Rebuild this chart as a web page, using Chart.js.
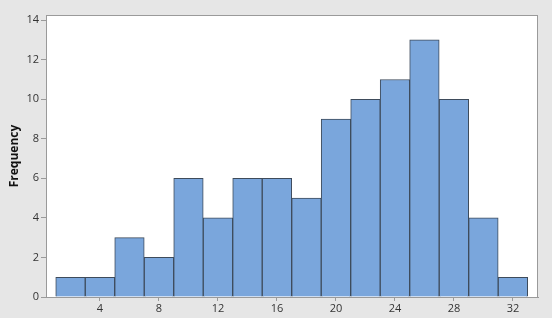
<!DOCTYPE html>
<html>
<head>
<meta charset="utf-8">
<script src="https://cdn.jsdelivr.net/npm/chart.js@4/dist/chart.umd.min.js"></script>
<style>
  html, body { margin: 0; padding: 0; background: #e6e6e6; }
  #wrap { width: 552px; height: 318px; position: relative; }
</style>
</head>
<body>
<div id="wrap"><canvas id="c" width="552" height="318"></canvas></div>
<script>
// Bin centers (bin width 2, from 1 to 33)
const binCenters = [2, 4, 6, 8, 10, 12, 14, 16, 18, 20, 22, 24, 26, 28, 30, 32];
const frequencies = [1, 1, 3, 2, 6, 4, 6, 6, 5, 9, 10, 11, 13, 10, 4, 1];
const xTickValues = [4, 8, 12, 16, 20, 24, 28, 32];
const yTickValues = [0, 2, 4, 6, 8, 10, 12, 14];
const yAxisTitle = 'Frequency';

const frame = {
  id: 'frame',
  beforeDraw(chart) {
    const {ctx, chartArea: a} = chart;
    ctx.save();
    ctx.fillStyle = '#ffffff';
    ctx.fillRect(a.left, a.top, a.right - a.left, a.bottom - a.top);
    ctx.restore();
  },
  afterDraw(chart) {
    const {ctx, chartArea: a} = chart;
    ctx.save();
    ctx.strokeStyle = '#9a9a9a';
    ctx.lineWidth = 1;
    ctx.strokeRect(Math.round(a.left) + 0.5, Math.round(a.top) + 0.5,
      Math.round(a.right - a.left) - 1, Math.round(a.bottom - a.top));
    ctx.restore();
  }
};

new Chart(document.getElementById('c'), {
  type: 'bar',
  data: {
    datasets: [{
      data: binCenters.map((c, i) => ({x: c, y: frequencies[i]})),
      backgroundColor: '#7aa6dc',
      borderColor: '#3e4b5b',
      borderWidth: 1,
      borderSkipped: 'bottom',
      barPercentage: 1,
      categoryPercentage: 1,
      grouped: false
    }]
  },
  options: {
    responsive: false,
    animation: false,
    layout: { padding: { left: 0, top: 15, right: 14, bottom: 0 } },
    plugins: { legend: { display: false }, tooltip: { enabled: false } },
    scales: {
      x: {
        type: 'linear',
        offset: false,
        min: 0.34,
        max: 33.7,
        afterFit: s => { s.height = 21; },
        afterBuildTicks: s => { s.ticks = xTickValues.map(v => ({value: v})); },
        grid: { display: true, offset: false, drawOnChartArea: false, drawTicks: true, tickLength: 4, color: '#9a9a9a' },
        border: { display: true, color: '#9a9a9a' },
        ticks: { color: '#333333', font: { family: 'Open Sans', size: 11 }, padding: 1, maxRotation: 0 }
      },
      y: {
        type: 'linear',
        min: 0,
        max: 14.26,
        afterFit: s => { s.width = 46; },
        afterBuildTicks: s => { s.ticks = yTickValues.map(v => ({value: v})); },
        grid: { display: true, drawOnChartArea: false, drawTicks: true, tickLength: 5, color: '#9a9a9a' },
        border: { display: true, color: '#9a9a9a' },
        ticks: { color: '#333333', font: { family: 'Open Sans', size: 11 }, padding: 2 },
        title: {
          display: true,
          text: yAxisTitle,
          color: '#111111',
          font: { family: 'Open Sans', size: 12, weight: 'bold' },
          padding: { top: 7, bottom: 0 }
        }
      }
    }
  },
  plugins: [frame]
});
</script>
</body>
</html>
